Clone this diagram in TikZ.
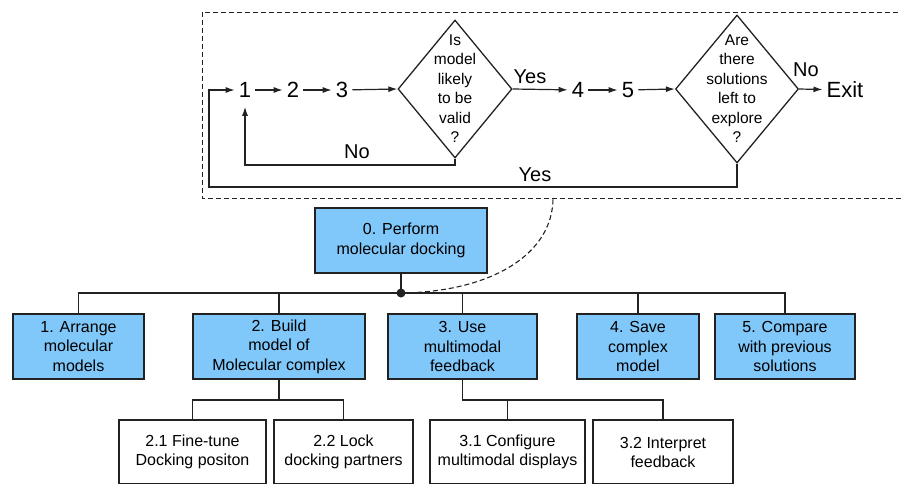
\documentclass[tikz,border=0pt]{standalone}
\usepackage{fontspec}
\setmainfont{Liberation Sans}
\usetikzlibrary{shapes.geometric,arrows.meta}
\definecolor{boxblue}{RGB}{128,199,250}
\definecolor{ln}{RGB}{34,34,34}
\tikzset{
  arr/.style={draw=ln, line width=1.2pt, -{Latex[length=9pt,width=6pt]}},
  flow/.style={draw=ln, line width=1.2pt},
  tree/.style={draw=ln, line width=1.4pt},
  bluebox/.style={draw=ln, line width=1.5pt, fill=boxblue, align=center, inner sep=0pt,
    minimum height=65pt, font=\fontsize{16}{19.5}\selectfont},
  whitebox/.style={draw=ln, line width=1.5pt, fill=white, align=center, inner sep=0pt,
    minimum height=64pt, font=\fontsize{16}{19}\selectfont},
  num/.style={inner sep=4pt, font=\fontsize{22}{22}\selectfont},
  lbl/.style={inner sep=0pt, font=\fontsize{20}{20}\selectfont},
  dia/.style={draw=ln, line width=1.3pt, diamond, inner sep=0pt},
  dtext/.style={align=center, inner sep=0pt, font=\fontsize{15.5}{19.5}\selectfont},
  dbox/.style={draw=ln, line width=1pt, dash pattern=on 5pt off 3pt},
}
\begin{document}
\begin{tikzpicture}[x=1pt,y=-1pt]
\useasboundingbox (0,0) rectangle (901,483);
\clip (0,0) rectangle (901,483);
% dashed frame
\draw[dbox] (202,12) rectangle (912,198);
% top flow
\node[num] (n1) at (245,90) {1};
\node[num] (n2) at (293,90) {2};
\node[num] (n3) at (342,90) {3};
\node[dia, minimum width=114pt, minimum height=138pt] (d1) at (455,89) {};
\node[dtext] (d1t) at (455,88.5) {Is\\model\\likely\\to be\\valid\\?};
\node[num] (n4) at (578,90) {4};
\node[num] (n5) at (628,90) {5};
\node[dia, minimum width=123pt, minimum height=148pt] (d2) at (737,89) {};
\node[dtext] (d2t) at (737,88.5) {Are\\there\\solutions\\left to\\explore\\?};
\node[num] (ex) at (845,90) {Exit};
\draw[arr] (n1) -- (n2);
\draw[arr] (n2) -- (n3);
\draw[arr] (n3) -- (d1.west);
\draw[arr] (d1.east) -- (n4);
\node[lbl] (yes1) at (530,77) {Yes};
\draw[arr] (n4) -- (n5);
\draw[arr] (n5) -- (d2.west);
\draw[arr] (d2.east) -- (ex);
\node[lbl] (no2) at (806,70) {No};
% No loop
\coordinate (noc) at (455,165);
\draw[arr] (d1.south) -- (noc) -| ([yshift=-5pt]n1.south);
\node[lbl] (no1) at (357,152) {No};
% Yes loop
\coordinate (yc) at (737,187);
\coordinate (yl) at (209,187);
\draw[arr] (d2.south) -- (yc) -- (yl) |- (n1.west);
\node[lbl] (yes2) at (535,175) {Yes};
% hierarchy
\node[bluebox, minimum width=172pt] (b0) at (401,240.5) {0. Perform\\molecular docking};
\node[bluebox, minimum width=131pt] (b1) at (78.5,346.5) {1. Arrange\\molecular\\models};
\node[bluebox, minimum width=172pt] (b2) at (279,346.5) {2. Build\\model of\\Molecular complex};
\node[bluebox, minimum width=149pt] (b3) at (462.5,346.5) {3. Use\\multimodal\\feedback};
\node[bluebox, minimum width=122pt] (b4) at (638,346.5) {4. Save\\complex\\model};
\node[bluebox, minimum width=140pt] (b5) at (785,346.5) {5. Compare\\with previous\\solutions};
\coordinate (j0) at (401,293);
\draw[tree] (b0.south) -- (j0);
\draw[tree] (b1.north) |- (j0) -| (b5.north);
\draw[tree] (b2.north) -- (b2.north |- j0);
\draw[tree] (b3.north) -- (b3.north |- j0);
\draw[tree] (b4.north) -- (b4.north |- j0);
\fill[ln] (j0) circle (4.5pt);
\coordinate (cu) at (553,198);
\draw[ln, line width=1.1pt, dash pattern=on 5pt off 3pt] (j0) .. controls (490,292) and (553,255) .. (cu);
% level 2
\node[whitebox, minimum width=147pt] (c21) at (192.5,452) {2.1 Fine-tune\\Docking positon};
\node[whitebox, minimum width=139pt] (c22) at (343.5,452) {2.2 Lock\\docking partners};
\node[whitebox, minimum width=155pt] (c31) at (507.5,452) {3.1 Configure\\multimodal displays};
\node[whitebox, minimum width=140pt] (c32) at (663,452) {3.2 Interpret\\feedback};
\coordinate (j2) at (279,400);
\draw[tree] (b2.south) -- (j2);
\draw[tree] (c21.north) |- (j2) -| (c22.north);
\coordinate (j3) at (462.5,400);
\draw[tree] (b3.south) -- (j3) -| (c32.north);
\draw[tree] (c31.north) -- (c31.north |- j3);
\end{tikzpicture}
\end{document}
